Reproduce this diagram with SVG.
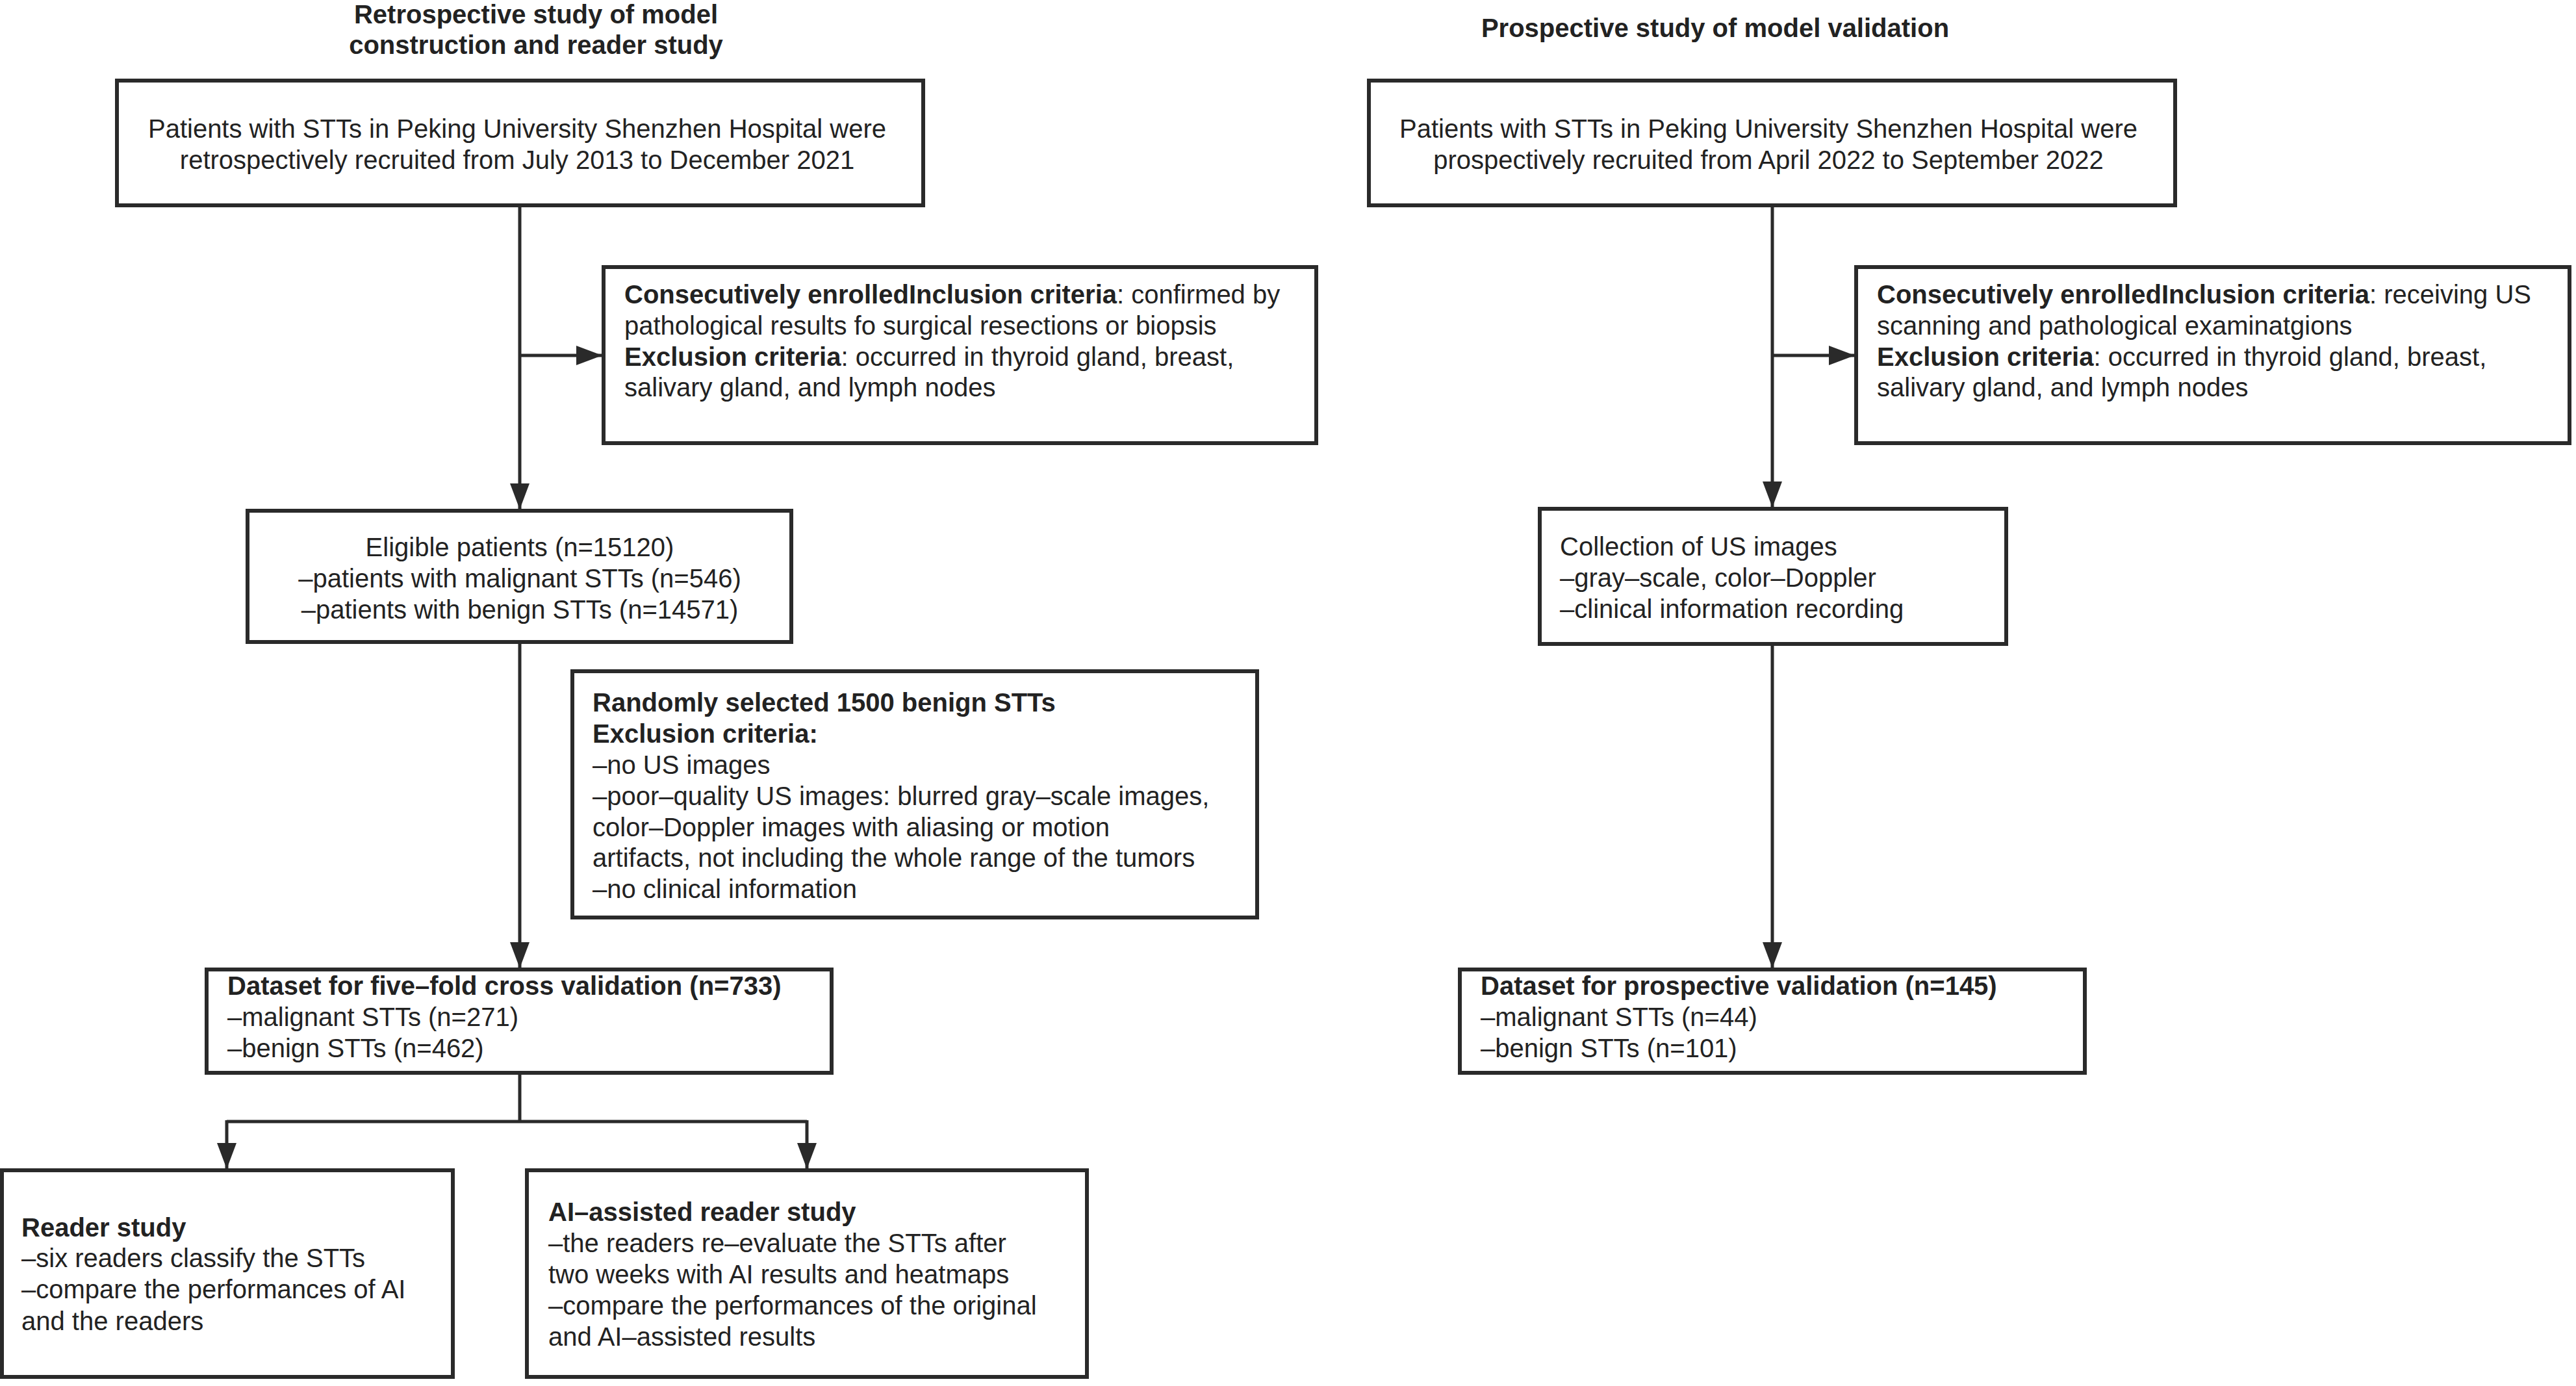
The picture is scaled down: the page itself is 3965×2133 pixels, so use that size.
<svg xmlns="http://www.w3.org/2000/svg" width="3965" height="2133" viewBox="0 0 3965 2133">
<defs>
<style>
.box{fill:#fff;stroke:#2a2a2a;stroke-width:6}
.ln{fill:none;stroke:#2a2a2a;stroke-width:5}
text{font-family:"Liberation Sans",Arial,Helvetica,sans-serif;font-size:40px;fill:#222}
.b{font-weight:bold}
.c{text-anchor:middle}
</style>
<marker id="ah" markerUnits="userSpaceOnUse" markerWidth="42" markerHeight="32" refX="40" refY="15" orient="auto">
<path d="M0,0 L40,15 L0,30 Z" fill="#2a2a2a"/>
</marker>
</defs>
<rect width="3965" height="2133" fill="#fff"/>
<g id="titles">
<text class="b c" x="825" y="36">Retrospective study of model</text>
<text class="b c" x="825" y="83">construction and reader study</text>
<text class="b c" x="2640" y="57">Prospective study of model validation</text>
</g>
<g id="connectors">
<line class="ln" x1="800" y1="316" x2="800" y2="784" marker-end="url(#ah)"/>
<line class="ln" x1="800" y1="547" x2="927" y2="547" marker-end="url(#ah)"/>
<line class="ln" x1="800" y1="988" x2="800" y2="1490" marker-end="url(#ah)"/>
<line class="ln" x1="800" y1="1651" x2="800" y2="1726"/>
<line class="ln" x1="349" y1="1726" x2="1242" y2="1726"/>
<line class="ln" x1="349" y1="1724" x2="349" y2="1799" marker-end="url(#ah)"/>
<line class="ln" x1="1242" y1="1724" x2="1242" y2="1799" marker-end="url(#ah)"/>
<line class="ln" x1="2728" y1="316" x2="2728" y2="781" marker-end="url(#ah)"/>
<line class="ln" x1="2728" y1="547" x2="2855" y2="547" marker-end="url(#ah)"/>
<line class="ln" x1="2728" y1="991" x2="2728" y2="1490" marker-end="url(#ah)"/>
</g>
<g id="n_retro_recruit">
<rect class="box" x="180" y="124" width="1241" height="192"/>
<text class="c" x="796" y="212">Patients with STTs in Peking University Shenzhen Hospital were</text>
<text class="c" x="796" y="260">retrospectively recruited from July 2013 to December 2021</text>
</g>
<g id="n_retro_criteria">
<rect class="box" x="929" y="411" width="1097" height="271"/>
<text x="961" y="467"><tspan class="b">Consecutively enrolledInclusion criteria</tspan>: confirmed by</text>
<text x="961" y="515">pathological results fo surgical resections or biopsis</text>
<text x="961" y="563"><tspan class="b">Exclusion criteria</tspan>: occurred in thyroid gland, breast,</text>
<text x="961" y="610">salivary gland, and lymph nodes</text>
</g>
<g id="n_eligible">
<rect class="box" x="381" y="786" width="837" height="202"/>
<text class="c" x="800" y="856">Eligible patients (n=15120)</text>
<text class="c" x="800" y="904">–patients with malignant STTs (n=546)</text>
<text class="c" x="800" y="952">–patients with benign STTs (n=14571)</text>
</g>
<g id="n_random">
<rect class="box" x="881" y="1033" width="1054" height="379"/>
<text class="b" x="912" y="1095">Randomly selected 1500 benign STTs</text>
<text class="b" x="912" y="1143">Exclusion criteria:</text>
<text x="912" y="1191">–no US images</text>
<text x="912" y="1239">–poor–quality US images: blurred gray–scale images,</text>
<text x="912" y="1287">color–Doppler images with aliasing or motion</text>
<text x="912" y="1334">artifacts, not including the whole range of the tumors</text>
<text x="912" y="1382">–no clinical information</text>
</g>
<g id="n_dataset_cv">
<rect class="box" x="318" y="1492" width="962" height="159"/>
<text class="b" x="350" y="1531">Dataset for five–fold cross validation (n=733)</text>
<text x="350" y="1579">–malignant STTs (n=271)</text>
<text x="350" y="1627">–benign STTs (n=462)</text>
</g>
<g id="n_reader">
<rect class="box" x="3" y="1801" width="694" height="318"/>
<text class="b" x="33" y="1903">Reader study</text>
<text x="33" y="1950">–six readers classify the STTs</text>
<text x="33" y="1998">–compare the performances of AI</text>
<text x="33" y="2047">and the readers</text>
</g>
<g id="n_ai_reader">
<rect class="box" x="811" y="1801" width="862" height="318"/>
<text class="b" x="844" y="1879">AI–assisted reader study</text>
<text x="844" y="1927">–the readers re–evaluate the STTs after</text>
<text x="844" y="1975">two weeks with AI results and heatmaps</text>
<text x="844" y="2023">–compare the performances of the original</text>
<text x="844" y="2071">and AI–assisted results</text>
</g>
<g id="n_pro_recruit">
<rect class="box" x="2107" y="124" width="1241" height="192"/>
<text class="c" x="2722" y="212">Patients with STTs in Peking University Shenzhen Hospital were</text>
<text class="c" x="2722" y="260">prospectively recruited from April 2022 to September 2022</text>
</g>
<g id="n_pro_criteria">
<rect class="box" x="2857" y="411" width="1098" height="271"/>
<text x="2889" y="467"><tspan class="b">Consecutively enrolledInclusion criteria</tspan>: receiving US</text>
<text x="2889" y="515">scanning and pathological examinatgions</text>
<text x="2889" y="563"><tspan class="b">Exclusion criteria</tspan>: occurred in thyroid gland, breast,</text>
<text x="2889" y="610">salivary gland, and lymph nodes</text>
</g>
<g id="n_collection">
<rect class="box" x="2370" y="783" width="718" height="208"/>
<text x="2401" y="855">Collection of US images</text>
<text x="2401" y="903">–gray–scale, color–Doppler</text>
<text x="2401" y="951">–clinical information recording</text>
</g>
<g id="n_dataset_pro">
<rect class="box" x="2247" y="1492" width="962" height="159"/>
<text class="b" x="2279" y="1531">Dataset for prospective validation (n=145)</text>
<text x="2279" y="1579">–malignant STTs (n=44)</text>
<text x="2279" y="1627">–benign STTs (n=101)</text>
</g>
</svg>
